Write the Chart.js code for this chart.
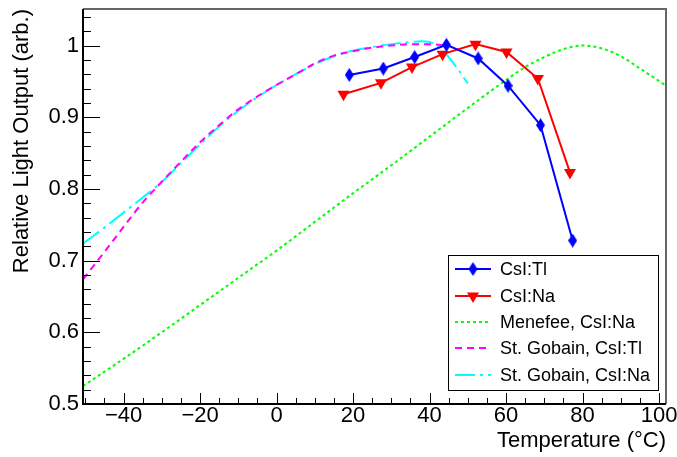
<!DOCTYPE html>
<html>
<head>
<meta charset="utf-8">
<script src="https://cdn.jsdelivr.net/npm/chart.js@4"></script>
<style>
html, body { margin: 0; padding: 0; background: #fff; }
</style>
</head>
<body>
<canvas id="myChart" width="677" height="457"></canvas>
<script>
// measured points
const tlTemp = [19.0, 27.9, 36.1, 44.4, 52.7, 60.5, 69.0, 77.4];
const tlLight = [0.959, 0.968, 0.984, 1.001, 0.982, 0.944, 0.889, 0.728];
const naTemp = [17.5, 27.3, 35.4, 43.4, 52.0, 60.1, 68.3, 76.7];
const naLight = [0.932, 0.948, 0.970, 0.988, 1.002, 0.991, 0.954, 0.823];

// reference curves
const menefeeTemp = [-50.6, -40, -30, -20, -10, 0, 10, 20, 30, 40, 50, 60, 65, 70, 75, 80, 85, 90, 95, 101.8];
const menefeeLight = [0.525, 0.563, 0.600, 0.638, 0.676, 0.714, 0.754, 0.794, 0.833, 0.873, 0.913, 0.952, 0.970, 0.984, 0.995, 1.0, 0.996, 0.985, 0.968, 0.944];
const sgTlTemp = [-50.6, -45, -40, -35, -30, -25, -20, -15, -10, -5, 0, 5, 10, 15, 20, 25, 30, 35, 40, 44.5];
const sgTlLight = [0.674, 0.712, 0.747, 0.781, 0.810, 0.838, 0.865, 0.889, 0.911, 0.929, 0.945, 0.960, 0.975, 0.986, 0.992, 0.997, 1.0, 1.002, 1.002, 1.0];
const sgNaTemp = [-50.6, -45, -40, -35, -30, -25, -20, -15, -10, -5, 0, 5, 10, 15, 20, 25, 30, 35, 38, 41, 44, 47, 50];
const sgNaLight = [0.724, 0.746, 0.767, 0.788, 0.810, 0.836, 0.862, 0.887, 0.909, 0.928, 0.945, 0.960, 0.974, 0.985, 0.993, 0.998, 1.002, 1.005, 1.006, 1.003, 0.990, 0.970, 0.947];

const xTicks = [-40, -20, 0, 20, 40, 60, 80, 100];
const yTicks = [0.5, 0.6, 0.7, 0.8, 0.9, 1];

const FONT = "'Liberation Sans', Arial, Helvetica, sans-serif";

function pts(xs, ys) {
    return xs.map((x, i) => ({x: x, y: ys[i]}));
}

function makeDiamond(color) {
    const c = document.createElement('canvas');
    c.width = 9; c.height = 14;
    const g = c.getContext('2d');
    g.fillStyle = color;
    g.beginPath();
    g.moveTo(4.5, 0); g.lineTo(9, 7); g.lineTo(4.5, 14); g.lineTo(0, 7);
    g.closePath();
    g.fill();
    return c;
}
const diamond = makeDiamond('#0000ff');

function noPad(s) {
    s.paddingTop = 0;
    s.paddingBottom = 0;
    s.paddingLeft = 0;
    s.paddingRight = 0;
}

// ROOT style frame with inward ticks
const frameTicks = {
    id: 'frameTicks',
    afterDatasetsDraw(chart) {
        const {ctx, chartArea: a, scales: {x, y}} = chart;
        ctx.save();
        ctx.strokeStyle = '#000';
        ctx.lineWidth = 1;
        ctx.beginPath();
        for (let v = -50; v <= 100; v += 5) {
            const px = Math.round(x.getPixelForValue(v)) + 0.5;
            const len = v % 20 === 0 ? 11 : 6;
            ctx.moveTo(px, a.bottom);
            ctx.lineTo(px, a.bottom - len);
        }
        for (let k = 25; k <= 52; k++) {
            const py = Math.round(y.getPixelForValue(k / 50)) + 0.5;
            const len = k % 5 === 0 ? 17 : 8;
            ctx.moveTo(a.left, py);
            ctx.lineTo(a.left + len, py);
        }
        ctx.stroke();

        ctx.strokeStyle = '#666';
        ctx.lineWidth = 2;
        ctx.beginPath();
        ctx.moveTo(a.left, a.top);
        ctx.lineTo(a.right, a.top);
        ctx.lineTo(a.right, a.bottom);
        ctx.stroke();

        ctx.strokeStyle = '#000';
        ctx.lineWidth = 2;
        ctx.beginPath();
        ctx.moveTo(a.left, a.top);
        ctx.lineTo(a.left, a.bottom);
        ctx.lineTo(a.right, a.bottom);
        ctx.stroke();
        ctx.restore();
    }
};

const boxLegend = {
    id: 'boxLegend',
    afterDraw(chart) {
        const ctx = chart.ctx;
        const bx = 448, by = 255, bw = 210, bh = 135;
        const rows = [269, 296, 322, 348, 375];
        ctx.save();
        ctx.fillStyle = '#fff';
        ctx.fillRect(bx, by, bw, bh);
        ctx.strokeStyle = '#000';
        ctx.lineWidth = 1;
        ctx.strokeRect(bx + 0.5, by + 0.5, bw, bh);
        chart.data.datasets.forEach((ds, i) => {
            const yy = rows[i];
            ctx.strokeStyle = ds.borderColor;
            ctx.lineWidth = 2;
            ctx.setLineDash(ds.borderDash || []);
            ctx.beginPath();
            ctx.moveTo(455, yy);
            ctx.lineTo(491, yy);
            ctx.stroke();
            ctx.setLineDash([]);
            if (ds.pointStyle === 'triangle') {
                const r = ds.pointRadius;
                ctx.fillStyle = ds.pointBackgroundColor;
                ctx.beginPath();
                ctx.moveTo(473 - r * 0.866, yy - r * 0.5);
                ctx.lineTo(473 + r * 0.866, yy - r * 0.5);
                ctx.lineTo(473, yy + r);
                ctx.closePath();
                ctx.fill();
            } else if (ds.pointStyle instanceof HTMLCanvasElement) {
                ctx.drawImage(ds.pointStyle, 473 - 4.5, yy - 7);
            }
            ctx.fillStyle = '#000';
            ctx.font = '18px ' + FONT;
            ctx.textBaseline = 'middle';
            ctx.textAlign = 'left';
            ctx.fillText(ds.label, 500, yy + 1);
        });
        ctx.restore();
    }
};

function fmt(v) {
    const s = String(Math.round(v * 100) / 100);
    return s.replace('-', '\u2212');
}

new Chart(document.getElementById('myChart'), {
    type: 'line',
    data: {
        datasets: [
            {
                label: 'CsI:Tl',
                data: pts(tlTemp, tlLight),
                borderColor: '#0000ff',
                borderWidth: 2,
                pointStyle: diamond,
                pointRadius: 7,
                pointBackgroundColor: '#0000ff',
                tension: 0
            },
            {
                label: 'CsI:Na',
                data: pts(naTemp, naLight),
                borderColor: '#ff0000',
                borderWidth: 2,
                pointStyle: 'triangle',
                rotation: 180,
                pointRadius: 7,
                pointBackgroundColor: '#ff0000',
                pointBorderColor: '#ff0000',
                pointBorderWidth: 0,
                tension: 0
            },
            {
                label: 'Menefee, CsI:Na',
                data: pts(menefeeTemp, menefeeLight),
                borderColor: '#00ff00',
                borderWidth: 2,
                borderDash: [3, 3],
                pointRadius: 0,
                cubicInterpolationMode: 'monotone'
            },
            {
                label: 'St. Gobain, CsI:Tl',
                data: pts(sgTlTemp, sgTlLight),
                borderColor: '#ff00ff',
                borderWidth: 2,
                borderDash: [7, 5],
                pointRadius: 0,
                cubicInterpolationMode: 'monotone'
            },
            {
                label: 'St. Gobain, CsI:Na',
                data: pts(sgNaTemp, sgNaLight),
                borderColor: '#00ffff',
                borderWidth: 2,
                borderDash: [20, 5, 3, 5],
                pointRadius: 0,
                cubicInterpolationMode: 'monotone'
            }
        ]
    },
    options: {
        responsive: false,
        animation: false,
        events: [],
        layout: {padding: {top: 7, right: 11, left: 0, bottom: 0}},
        plugins: {legend: {display: false}, tooltip: {enabled: false}},
        scales: {
            x: {
                type: 'linear',
                min: -50.6,
                max: 101.8,
                grid: {display: false, drawTicks: false},
                border: {display: false},
                afterBuildTicks: s => { s.ticks = xTicks.map(v => ({value: v})); },
                afterFit: s => { s.height = 53; noPad(s); },
                ticks: {
                    color: '#000',
                    padding: 1,
                    maxRotation: 0,
                    autoSkip: false,
                    font: {family: FONT, size: 22, lineHeight: 1.0},
                    callback: v => fmt(v)
                },
                title: {
                    display: true,
                    text: 'Temperature (\u00b0C)',
                    align: 'end',
                    color: '#000',
                    padding: {top: 0, bottom: 3},
                    font: {family: FONT, size: 22}
                }
            },
            y: {
                type: 'linear',
                min: 0.5,
                max: 1.051,
                grid: {display: false, drawTicks: false},
                border: {display: false},
                afterBuildTicks: s => { s.ticks = yTicks.map(v => ({value: v})); },
                afterFit: s => { s.width = 83; noPad(s); },
                ticks: {
                    color: '#000',
                    padding: 4,
                    autoSkip: false,
                    font: {family: FONT, size: 22},
                    callback: v => fmt(v)
                },
                title: {
                    display: true,
                    text: 'Relative Light Output (arb.)',
                    align: 'end',
                    color: '#000',
                    padding: {top: 9, bottom: 0},
                    font: {family: FONT, size: 22}
                }
            }
        }
    },
    plugins: [frameTicks, boxLegend]
});
</script>
</body>
</html>
